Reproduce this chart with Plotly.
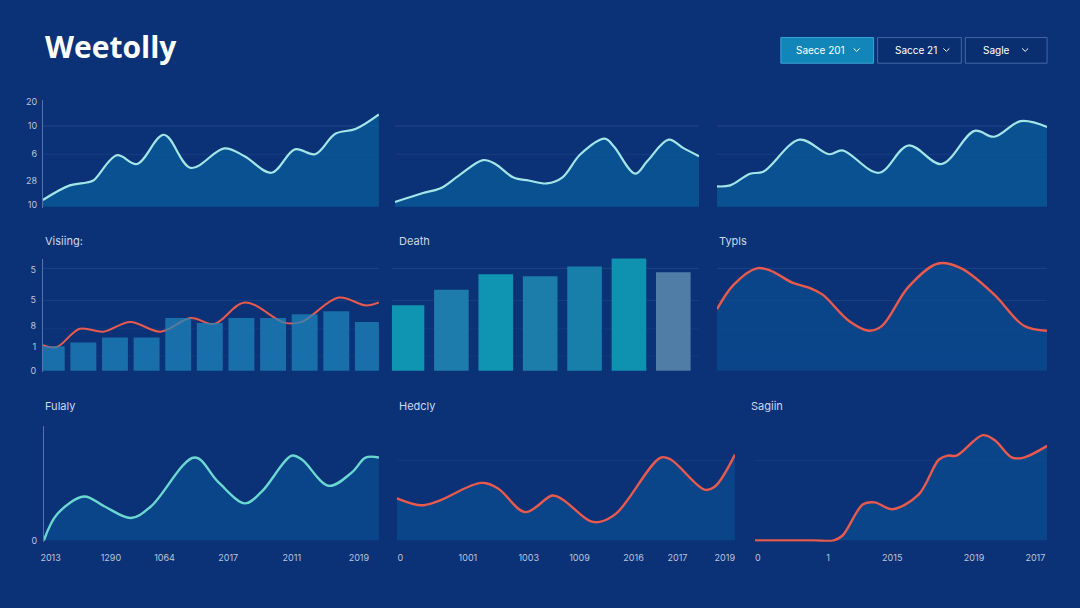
import plotly.graph_objects as go

W, H = 1080, 608
BG = "#0b3277"

# ---------------- data ----------------
# Row 1 area lines (x in % of panel width)
r1a_x = [0, 8, 13, 15, 22, 28, 36, 44, 54, 60, 68, 75, 81, 87, 93, 100]
r1a_y = [7, 22, 25, 27, 53, 44, 74, 40, 60, 52, 35, 59, 54, 75, 80, 95]
r1b_x = [0, 9, 15, 21, 29, 33, 39, 44, 50, 55, 61, 69, 72, 79, 83, 90, 95, 100]
r1b_y = [5, 14, 19, 32, 48, 44, 30, 27, 24, 30, 54, 70, 62, 34, 47, 69, 60, 52]
r1c_x = [0, 4, 10, 14, 25, 34, 38, 49, 58, 68, 78, 84, 92, 100]
r1c_y = [21, 22, 34, 36, 69, 54, 58, 35, 63, 44, 78, 72, 88, 82]
r1_ticktext = ["20", "10", "6", "28", "10"]
r1_tickvals = [108, 83, 54, 27, 2]

# Row 2 "Visiing:" bars + line
vis_cats = list(range(1, 12))
vis_bars = [25, 29, 34, 34, 54, 49, 54, 54, 58, 61, 50]
vis_line_x = [0, 4, 11, 18, 26, 35, 44, 51, 60, 72, 77, 88, 96, 100]
vis_line_y = [26, 24, 43, 40, 50, 40, 54, 48, 70, 49, 50, 75, 67, 70]
r2_ticktext = ["5", "5", "8", "1", "0"]
r2_tickvals = [103, 73, 46, 24, 0]

# Row 2 "Death" bars
death_cats = list(range(1, 8))
death_vals = [67, 83, 99, 97, 107, 124, 101]
death_colors = ["#0f94b2", "#1d7cab", "#0f94b2", "#1c7dab", "#187fab", "#0f92b0", "#4f7da6"]

# Row 2 "Typls"
typ_x = [0, 5, 12, 16, 23, 28, 32, 40, 46, 50, 58, 67, 74, 84, 93, 100]
typ_y = [63, 88, 105, 103, 90, 85, 78, 51, 41, 46, 86, 110, 105, 78, 46, 41]

# Row 3 "Fulaly"
ful_x = [0, 4, 12, 18, 26, 32, 45, 52, 60, 65, 74, 77, 85, 92, 96, 100]
ful_y = [0, 27, 45, 35, 23, 35, 85, 60, 38, 50, 87, 83, 56, 70, 85, 85]
ful_tickvals = [2, 20, 36, 55, 74, 94]
ful_ticktext = ["2013", "1290", "1064", "2017", "2011", "2019"]

# Row 3 "Hedcly"
hed_x = [0, 7, 12, 25, 30, 38, 46, 49, 57, 60, 65, 78, 81, 91, 94, 100]
hed_y = [43, 36, 40, 59, 53, 29, 46, 42, 20, 19, 28, 85, 83, 52, 55, 88]
hed_tickvals = [1, 21, 39, 54, 70, 83, 97]
hed_ticktext = ["0", "1001", "1003", "1009", "2016", "2017", "2019"]

# Row 3 "Sagiin"
sag_x = [0, 20, 27, 30, 37, 41, 47, 56, 63, 66, 69, 78, 82, 88, 92, 100]
sag_y = [0, 0, 0, 5, 37, 39, 32, 47, 83, 87, 87, 108, 103, 85, 85, 97]
sag_tickvals = [1, 25, 47, 75, 96]
sag_ticktext = ["0", "1", "2015", "2019", "2017"]

# ---------------- layout helpers ----------------
# panel boxes in pixels: (x0, x1, ytop, ybottom)
boxes = {
    1: (40, 377, 97, 207), 2: (393, 698, 97, 207), 3: (716, 1047, 97, 207),
    4: (40, 377, 258, 373), 5: (390, 698, 258, 373), 6: (716, 1047, 258, 373),
    7: (41, 377, 428, 545), 8: (395, 734, 428, 545), 9: (754, 1047, 428, 545),
}

TICKFONT = dict(family="Inter, DejaVu Sans", size=9, color="#b9c5dc")
AXLINE = "rgba(170,195,230,0.45)"
FILL = "rgba(8,100,160,0.62)"
FILL2 = "rgba(10,80,150,0.6)"
CYAN = "#a3e6e8"
TEAL = "#6cd8d2"
RED = "#ea5a4c"

fig = go.Figure()
layout = dict(
    width=W, height=H, margin=dict(l=0, r=0, t=0, b=0),
    paper_bgcolor=BG, plot_bgcolor="rgba(0,0,0,0)", showlegend=False,
)
shapes = []
annotations = []


def ax_name(i, kind):
    return f"{kind}axis" if i == 1 else f"{kind}axis{i}"


def ref(i, kind):
    return kind if i == 1 else f"{kind}{i}"


for i, (x0, x1, yt, yb) in boxes.items():
    layout[ax_name(i, "x")] = dict(
        domain=[x0 / W, x1 / W], range=[0, 100], anchor=ref(i, "y"),
        showgrid=False, zeroline=False, showticklabels=False, ticks="",
        fixedrange=True,
    )
    layout[ax_name(i, "y")] = dict(
        domain=[1 - yb / H, 1 - yt / H], range=[-1.5, yb - yt], anchor=ref(i, "x"),
        showgrid=False, zeroline=False, showticklabels=False, ticks="",
        fixedrange=True,
    )

# y tick labels on left panels
layout["yaxis"].update(tickvals=r1_tickvals, ticktext=r1_ticktext, showticklabels=True,
                       tickfont=TICKFONT, showline=True, linecolor=AXLINE, linewidth=1,
                       ticklabelstandoff=3)
layout["yaxis4"].update(tickvals=r2_tickvals, ticktext=r2_ticktext, showticklabels=True,
                        tickfont=TICKFONT, showline=True, linecolor=AXLINE, linewidth=1,
                        ticklabelstandoff=4)
layout["yaxis7"].update(tickvals=[0], ticktext=["0"], showticklabels=True,
                        tickfont=TICKFONT, showline=True, linecolor=AXLINE, linewidth=1,
                        ticklabelstandoff=4)
# x tick labels row 3
for i, tv, tt in [(7, ful_tickvals, ful_ticktext), (8, hed_tickvals, hed_ticktext),
                  (9, sag_tickvals, sag_ticktext)]:
    layout[ax_name(i, "x")].update(tickvals=tv, ticktext=tt, showticklabels=True,
                                    tickfont=TICKFONT, ticklabelstandoff=9)

# overlay category axes for bars
layout["xaxis10"] = dict(domain=layout["xaxis4"]["domain"], range=[0.72, 11.35],
                         anchor="y4", overlaying="x4", visible=False, fixedrange=True)
layout["xaxis5"].update(range=[0.66, 7.58])

# faint horizontal grid lines
def hline(i, val, alpha):
    shapes.append(dict(type="line", xref=f"{ref(i,'x')} domain", yref=ref(i, "y"),
                       x0=0, x1=1, y0=val, y1=val, layer="below",
                       line=dict(color=f"rgba(150,180,230,{alpha})", width=1)))

for i in (1, 2, 3):
    hline(i, 83, 0.16)
    hline(i, 54, 0.10)
for i in (4, 5, 6):
    hline(i, 105, 0.14)
    hline(i, 72, 0.10)
    hline(i, 43, 0.06)
    hline(i, 15, 0.05)
for i in (8, 9):
    hline(i, 82, 0.08)


def area(x, y, i, color, fill=FILL, width=2.2):
    fig.add_trace(go.Scatter(
        x=x, y=y, xaxis=ref(i, "x"), yaxis=ref(i, "y"), mode="lines",
        line=dict(color=color, width=width, shape="spline", smoothing=1.0),
        fill="tozeroy", fillcolor=fill, hoverinfo="skip"))


area(r1a_x, r1a_y, 1, CYAN)
area(r1b_x, r1b_y, 2, CYAN)
area(r1c_x, r1c_y, 3, CYAN)

# Visiing bars + line
fig.add_trace(go.Bar(x=vis_cats, y=vis_bars, xaxis="x10", yaxis="y4", width=0.82,
                     marker=dict(color="rgba(30,135,190,0.72)", line=dict(width=0)),
                     hoverinfo="skip"))
fig.add_trace(go.Scatter(x=vis_line_x, y=vis_line_y, xaxis="x4", yaxis="y4", mode="lines",
                         line=dict(color=RED, width=2, shape="spline", smoothing=1.0),
                         hoverinfo="skip"))

# Death bars
fig.add_trace(go.Bar(x=death_cats, y=death_vals, xaxis="x5", yaxis="y5", width=0.78,
                     marker=dict(color=death_colors, line=dict(width=0)), hoverinfo="skip"))

area(typ_x, typ_y, 6, RED, fill=FILL2, width=2.4)
area(ful_x, ful_y, 7, TEAL, fill=FILL2, width=2.4)
area(hed_x, hed_y, 8, RED, fill=FILL2, width=2.4)
area(sag_x, sag_y, 9, RED, fill=FILL2, width=2.4)

# ---------------- text ----------------
TITLEFONT = dict(family="Inter, DejaVu Sans", size=11, color="#cdd8ec")
for txt, px, py in [("Visiing:", 40, 240), ("Death", 395, 240), ("Typls", 716, 240),
                    ("Fulaly", 40, 407), ("Hedcly", 395, 407), ("Sagiin", 748, 407)]:
    annotations.append(dict(text=txt, x=px / W, y=1 - py / H, xref="paper", yref="paper",
                            xanchor="left", yanchor="middle", showarrow=False,
                            font=TITLEFONT))

annotations.append(dict(text="<b>Weetolly</b>", x=40 / W, y=1 - 43 / H, xref="paper",
                        yref="paper", xanchor="left", yanchor="middle", showarrow=False,
                        font=dict(family="Open Sans, DejaVu Sans", size=30, color="#ffffff")))

# buttons: (label, x0, x1, text-left, chevron-x, active)
buttons = [
    ("Saece 201", 780, 873, 793, 856, True),
    ("Sacce 21", 877, 961, 892, 946, False),
    ("Sagle", 965, 1047, 981, 1025, False),
]
BT, BB = 34, 60
for label, bx0, bx1, tx, cx, active in buttons:
    shapes.append(dict(type="rect", xref="paper", yref="paper",
                       x0=bx0 / W, x1=bx1 / W, y0=1 - BB / H, y1=1 - BT / H,
                       fillcolor="#1286b8" if active else "rgba(10,45,110,0.6)",
                       line=dict(color="#3aa3d4" if active else "rgba(120,160,215,0.5)",
                                 width=1)))
    annotations.append(dict(text=label, x=tx / W, y=1 - 47 / H, xref="paper", yref="paper",
                            xanchor="left", yanchor="middle", showarrow=False,
                            font=dict(family="Inter, DejaVu Sans", size=10, color="#ffffff")))
    cy = 46.5
    path = (f"M {(cx-3)/W},{1-(cy-1.5)/H} L {cx/W},{1-(cy+1.5)/H} "
            f"L {(cx+3)/W},{1-(cy-1.5)/H}")
    shapes.append(dict(type="path", xref="paper", yref="paper", path=path,
                       line=dict(color="#ffffff", width=1)))

layout["shapes"] = shapes
layout["annotations"] = annotations
fig.update_layout(**layout)
fig.write_html("out.html")
